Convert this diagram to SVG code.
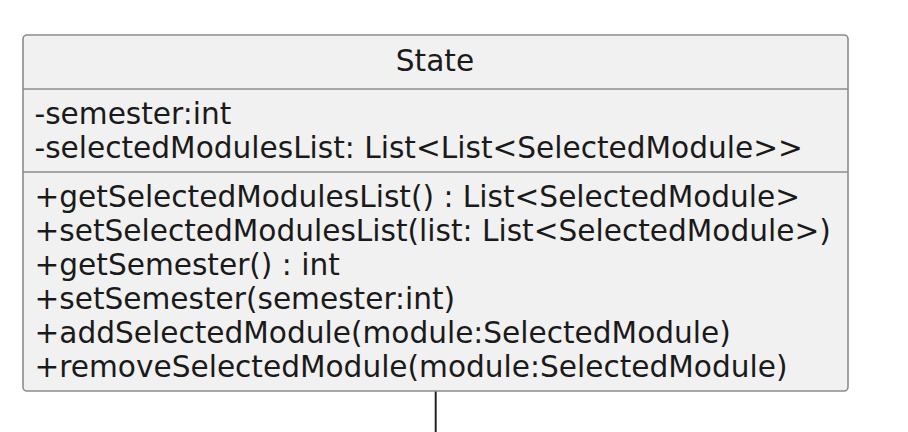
<svg xmlns="http://www.w3.org/2000/svg" width="908" height="432" viewBox="0 0 908 432">
<style>
.box{fill:#F1F1F1;stroke:#8C8C8C;stroke-width:1.6}
.div{stroke:#8C8C8C;stroke-width:1.6}
.t{font-family:"DejaVu Sans",sans-serif;font-size:29.6px;fill:#1a1a1a}
.edge{stroke:#222222;stroke-width:2;fill:none}
</style>
<rect width="908" height="432" fill="#FFFFFF"/>
<g id="connectors">
<line class="edge" x1="435.7" y1="391" x2="435.7" y2="432"/>
</g>
<g id="State">
<rect class="box" x="23" y="35" width="825" height="356" rx="4" ry="4"/>
<line class="div" x1="23" y1="89" x2="848" y2="89"/>
<line class="div" x1="23" y1="172" x2="848" y2="172"/>
<text class="t" x="435" y="71" text-anchor="middle">State</text>
<text class="t" x="34.5" y="123.5">-semester:int</text>
<text class="t" x="34.5" y="157.8">-selectedModulesList: List&lt;List&lt;SelectedModule&gt;&gt;</text>
<text class="t" x="34.5" y="206.7">+getSelectedModulesList() : List&lt;SelectedModule&gt;</text>
<text class="t" x="34.5" y="240.8">+setSelectedModulesList(list: List&lt;SelectedModule&gt;)</text>
<text class="t" x="34.5" y="274.9">+getSemester() : int</text>
<text class="t" x="34.5" y="309">+setSemester(semester:int)</text>
<text class="t" x="34.5" y="343.1">+addSelectedModule(module:SelectedModule)</text>
<text class="t" x="34.5" y="377.2">+removeSelectedModule(module:SelectedModule)</text>
</g>
</svg>
